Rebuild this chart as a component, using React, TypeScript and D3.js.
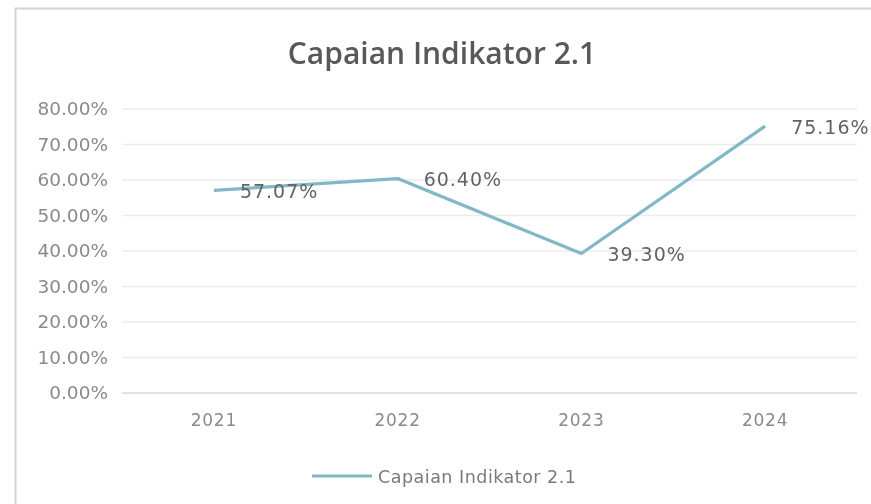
import React from "react";
import * as d3 from "d3";

const years = ["2021", "2022", "2023", "2024"];
const capaian = [57.07, 60.4, 39.3, 75.16];
const yTicks = [0, 10, 20, 30, 40, 50, 60, 70, 80];
const chartTitle = "Capaian Indikator 2.1";
const seriesName = "Capaian Indikator 2.1";

const W = 871;
const H = 504;

export default function App() {
  const x = d3.scaleBand<string>().domain(years).range([122, 857]);
  const y = d3.scaleLinear().domain([0, 80]).range([393, 109]);
  const cx = (d: string) => (x(d) as number) + x.bandwidth() / 2;
  const line = d3
    .line<number>()
    .x((_, i) => cx(years[i]))
    .y((v) => y(v));
  const fmt = (v: number) => v.toFixed(2) + "%";
  const lineColor = "#80b8c5";

  return (
    <svg
      width={W}
      height={H}
      style={{ position: "absolute", left: 0, top: 0, background: "#fff" }}
    >
      <defs>
        <filter id="blur" x="-5%" y="-20%" width="110%" height="140%">
          <feGaussianBlur stdDeviation="0.6" />
        </filter>
      </defs>
      <rect x={0} y={0} width={W} height={H} fill="#fff" />
      <rect
        x={15.5}
        y={8.5}
        width={W + 20}
        height={H + 20}
        fill="#fff"
        stroke="#d4d4d4"
        strokeWidth={2}
      />
      <g filter="url(#blur)">
        <text
          x={442}
          y={64}
          textAnchor="middle"
          fontFamily="'Open Sans', sans-serif"
          fontWeight={600}
          fontSize={30}
          fill="#595959"
        >
          {chartTitle}
        </text>
        {yTicks.map((t) => (
          <g key={t}>
            <line
              x1={122}
              x2={857}
              y1={y(t)}
              y2={y(t)}
              stroke={t === 0 ? "#d9d9d9" : "#ececec"}
              strokeWidth={1.5}
            />
            <text
              x={108}
              y={y(t)}
              dy="0.35em"
              textAnchor="end"
              fontFamily="'DejaVu Sans', sans-serif"
              fontSize={18.5}
              fill="#8a8a8a"
            >
              {fmt(t)}
            </text>
          </g>
        ))}
        {years.map((yr) => (
          <text
            key={yr}
            x={cx(yr)}
            y={420}
            dy="0.35em"
            textAnchor="middle"
            fontFamily="'DejaVu Sans', sans-serif"
            fontSize={17}
            letterSpacing={0.8}
            fill="#8a8a8a"
          >
            {yr}
          </text>
        ))}
        <path
          d={line(capaian) || ""}
          fill="none"
          stroke={lineColor}
          strokeWidth={3.2}
          strokeLinejoin="round"
        />
        {capaian.map((v, i) => (
          <text
            key={i}
            x={cx(years[i]) + 26}
            y={y(v) + 1}
            dy="0.35em"
            fontFamily="'DejaVu Sans', sans-serif"
            fontSize={19}
            letterSpacing={1}
            fill="#646464"
          >
            {fmt(v)}
          </text>
        ))}
        <line
          x1={312}
          x2={372}
          y1={476}
          y2={476}
          stroke={lineColor}
          strokeWidth={3.2}
        />
        <text
          x={378}
          y={477}
          dy="0.35em"
          fontFamily="'DejaVu Sans', sans-serif"
          fontSize={17.5}
          letterSpacing={0.5}
          fill="#7a7a7a"
        >
          {seriesName}
        </text>
      </g>
    </svg>
  );
}
